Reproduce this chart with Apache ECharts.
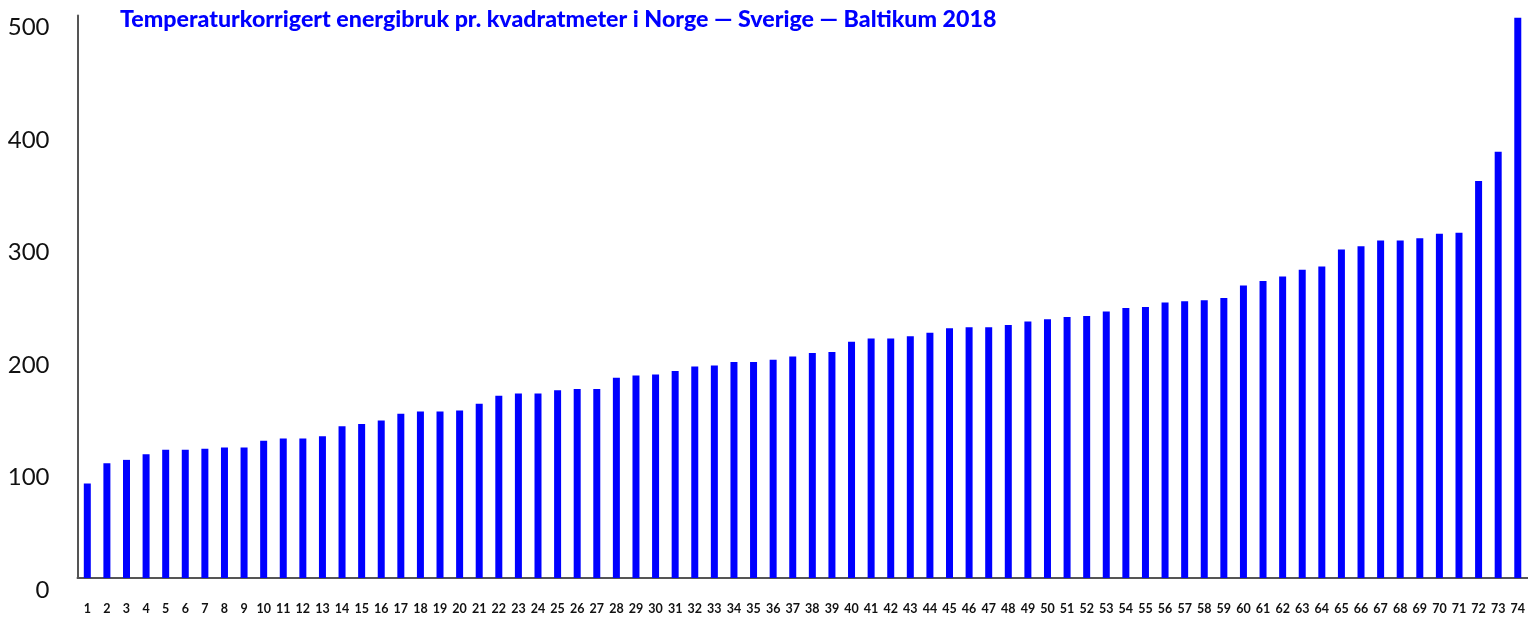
<!DOCTYPE html>
<html>
<head>
<meta charset="utf-8">
<script src="https://cdn.jsdelivr.net/npm/echarts@6/dist/echarts.min.js"></script>
<style>
  html, body { margin: 0; padding: 0; background: #fff; }
  #chart { width: 1528px; height: 618px; }
</style>
</head>
<body>
<div id="chart"></div>
<script>
// Chart title
const titleText = "Temperaturkorrigert energibruk pr. kvadratmeter i Norge — Sverige — Baltikum 2018";

// Categories 1..74
const categories = [
  "1", "2", "3", "4", "5", "6", "7", "8", "9", "10",
  "11", "12", "13", "14", "15", "16", "17", "18", "19", "20",
  "21", "22", "23", "24", "25", "26", "27", "28", "29", "30",
  "31", "32", "33", "34", "35", "36", "37", "38", "39", "40",
  "41", "42", "43", "44", "45", "46", "47", "48", "49", "50",
  "51", "52", "53", "54", "55", "56", "57", "58", "59", "60",
  "61", "62", "63", "64", "65", "66", "67", "68", "69", "70",
  "71", "72", "73", "74"
];

// Energy use (kWh/m2)
const energyValues = [
  84, 102, 105, 110, 114, 114, 115, 116, 116, 122,
  124, 124, 126, 135, 137, 140, 146, 148, 148, 149,
  155, 162, 164, 164, 167, 168, 168, 178, 180, 181,
  184, 188, 189, 192, 192, 194, 197, 200, 201, 210,
  213, 213, 215, 218, 222, 223, 223, 225, 228, 230,
  232, 233, 237, 240, 241, 245, 246, 247, 249, 260,
  264, 268, 274, 277, 292, 295, 300, 300, 302, 306,
  307, 353, 379, 498
];

// Y axis ticks
const yMin = 0;
const yMax = 500;
const yStep = 100;

const chart = echarts.init(document.getElementById("chart"));

const option = {
  animation: false,
  title: {
    text: titleText,
    left: 120,
    top: 8,
    padding: 0,
    textStyle: {
      color: "#0000ff",
      fontFamily: "Lato",
      fontWeight: 900,
      fontSize: 23.2,
    },
  },
  grid: {
    left: 77.5,
    right: -4,
    top: 15.5,
    bottom: 40,
  },
  xAxis: {
    type: "category",
    data: categories,
    axisLine: { lineStyle: { color: "#555555", width: 2 } },
    axisTick: { show: false },
    axisLabel: {
      interval: 0,
      margin: 24,
      color: "#111111",
      fontFamily: "Lato",
      fontWeight: "bold",
      fontSize: 12.5,
    },
  },
  yAxis: {
    type: "value",
    min: yMin,
    max: yMax,
    interval: yStep,
    axisLine: { show: true, lineStyle: { color: "#555555", width: 2 } },
    axisTick: { show: false },
    splitLine: { show: false },
    axisLabel: {
      margin: 28,
      color: "#111111",
      fontFamily: "Lato",
      fontSize: 24,
      verticalAlign: "top",
      lineHeight: 24,
    },
  },
  series: [
    {
      type: "bar",
      data: energyValues,
      barWidth: 7,
      itemStyle: { color: "#0000ff" },
    },
  ],
};

chart.setOption(option);
</script>
</body>
</html>
